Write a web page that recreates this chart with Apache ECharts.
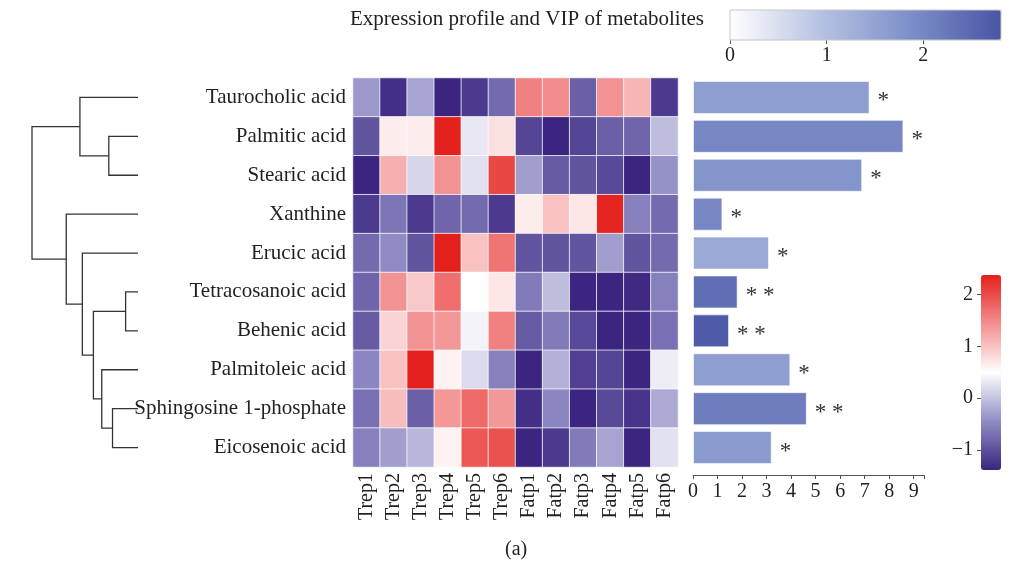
<!DOCTYPE html>
<html>
<head>
<meta charset="utf-8">
<script src="https://cdn.jsdelivr.net/npm/echarts@6/dist/echarts.min.js"></script>
<style>
  html, body { margin: 0; padding: 0; background: #fff; }
  #main { width: 1034px; height: 569px; }
</style>
</head>
<body>
<div id="main"></div>
<script>
// rows top to bottom, columns left to right
const rows = ['Taurocholic acid', 'Palmitic acid', 'Stearic acid', 'Xanthine', 'Erucic acid',
  'Tetracosanoic acid', 'Behenic acid', 'Palmitoleic acid', 'Sphingosine 1-phosphate', 'Eicosenoic acid'];
const cols = ['Trep1', 'Trep2', 'Trep3', 'Trep4', 'Trep5', 'Trep6',
  'Fatp1', 'Fatp2', 'Fatp3', 'Fatp4', 'Fatp5', 'Fatp6'];

// scaled expression (z-score), one line per metabolite
const expr = [
  [-0.35, -1.3, -0.25, -1.4, -1.2, -0.75, 1.55, 1.45, -0.85, 1.4, 1.1, -1.2],
  [-0.95, 0.65, 0.65, 2.4, 0.3, 0.75, -1.1, -1.4, -1.1, -0.85, -0.8, -0.05],
  [-1.4, 1.15, 0.15, 1.4, 0.25, 2.05, -0.3, -0.9, -0.95, -1.05, -1.4, -0.4],
  [-1.2, -0.65, -1.2, -0.8, -0.75, -1.2, 0.65, 1.0, 0.7, 2.35, -0.55, -0.75],
  [-0.75, -0.45, -0.95, 2.4, 1.0, 1.65, -0.95, -0.95, -0.95, -0.3, -0.95, -0.75],
  [-0.8, 1.4, 0.95, 1.7, 0.5, 0.7, -0.6, -0.05, -1.4, -1.4, -1.35, -0.55],
  [-0.9, 0.85, 1.4, 1.35, 0.4, 1.55, -0.9, -0.6, -1.05, -1.4, -1.4, -0.7],
  [-0.5, 1.0, 2.4, 0.6, 0.2, -0.55, -1.4, -0.15, -1.15, -1.1, -1.4, 0.35],
  [-0.7, 1.05, -0.85, 1.35, 1.75, 1.35, -1.3, -0.5, -1.4, -1.05, -1.25, -0.2],
  [-0.55, -0.3, -0.1, 0.6, 1.9, 1.95, -1.4, -1.2, -0.6, -0.25, -1.4, 0.25]
];

// VIP bars and their shading value
const vip = [7.2, 8.58, 6.9, 1.2, 3.1, 1.82, 1.47, 3.97, 4.64, 3.21];
const vipShade = [1.6, 2.0, 1.75, 2.0, 1.4, 2.4, 2.7, 1.6, 2.15, 1.65];
const stars = ['*', '*', '*', '*', '*', '* *', '* *', '*', '* *', '*'];

// dendrogram merges: [left, right, height]; ids >= 10 are earlier merges
const merges = [
  [5, 6, 1.23],
  [8, 9, 2.53],
  [1, 2, 2.9],
  [7, 11, 3.6],
  [10, 13, 4.43],
  [4, 14, 5.53],
  [0, 12, 5.77],
  [3, 15, 7.13],
  [16, 17, 10.53]
];

const FONT = 'Liberation Serif';
const INK = '#231f20';

// heatmap cells
const heatData = [];
expr.forEach(function (r, i) {
  r.forEach(function (v, j) {
    heatData.push([j, i, v]);
  });
});

// dendrogram segments
const nodes = rows.map(function (_, i) { return { h: 0, y: i }; });
const dendroLines = [];
merges.forEach(function (m) {
  const a = nodes[m[0]], b = nodes[m[1]];
  dendroLines.push({
    coords: [[a.h, a.y], [m[2], a.y], [m[2], b.y], [b.h, b.y]]
  });
  nodes.push({ h: m[2], y: (a.y + b.y) / 2 });
});

const barData = vip.map(function (v, i) {
  return [v, rows[i], vipShade[i]];
});

const txt = { fontFamily: FONT, color: INK, fontSize: 20 };

const myChart = echarts.init(document.getElementById('main'));
const option = {
  animation: false,
  backgroundColor: '#fff',
  textStyle: { fontFamily: FONT },
  title: [
    {
      text: 'Expression profile and VIP of metabolites',
      left: 345, top: 4,
      textStyle: { fontFamily: FONT, color: INK, fontSize: 21, fontWeight: 'normal' }
    },
    {
      text: '(a)',
      left: 500, top: 535,
      textStyle: { fontFamily: FONT, color: INK, fontSize: 20, fontWeight: 'normal' }
    }
  ],
  grid: [
    { left: 353, top: 78, width: 325, height: 389 },   // heatmap
    { left: 693, top: 78, width: 231, height: 389 },   // VIP bars
    { left: 32, top: 78, width: 106, height: 389 },    // dendrogram
    { left: 730, top: 10, width: 193.3, height: 30 },  // VIP colorbar ticks
    { left: 981, top: 294.7, width: 20, height: 155.3 }, // heatmap colorbar ticks
    { left: 730, top: 10, width: 271, height: 30, show: true, z: 10,
      backgroundColor: 'transparent', borderColor: '#c8c8c8', borderWidth: 1 } // colorbar frame
  ],
  xAxis: [
    {
      gridIndex: 0, type: 'category', data: cols,
      axisLine: { show: false }, axisTick: { show: false },
      axisLabel: Object.assign({ rotate: 90, margin: 6 }, txt)
    },
    {
      gridIndex: 1, type: 'value', min: 0, max: 9.42, interval: 1, offset: 8,
      axisLine: { show: true, lineStyle: { color: '#555', width: 1 } },
      axisTick: { show: true, length: 4, lineStyle: { color: '#555' } },
      splitLine: { show: false },
      axisLabel: Object.assign({
        margin: 7,
        formatter: function (v) { return Number.isInteger(v) ? String(v) : ''; }
      }, txt)
    },
    {
      gridIndex: 2, type: 'value', min: 0, max: 10.53, inverse: true, show: false
    },
    {
      gridIndex: 3, type: 'value', min: 0, max: 2, interval: 1, position: 'bottom',
      axisLine: { show: false },
      axisTick: { show: true, length: 4, lineStyle: { color: '#555' } },
      splitLine: { show: false },
      axisLabel: Object.assign({ margin: 6 }, txt)
    },
    {
      gridIndex: 4, type: 'value', min: 0, max: 1, show: false
    },
    {
      gridIndex: 5, type: 'value', min: 0, max: 1, show: false
    }
  ],
  yAxis: [
    {
      gridIndex: 0, type: 'category', data: rows, inverse: true,
      axisLine: { show: false }, axisTick: { show: false },
      axisLabel: Object.assign({ margin: 7 }, txt, { fontSize: 21 })
    },
    {
      gridIndex: 1, type: 'category', data: rows, inverse: true, show: false
    },
    {
      gridIndex: 2, type: 'value', min: -0.5, max: 9.5, inverse: true, show: false
    },
    {
      gridIndex: 3, type: 'value', min: 0, max: 1, show: false
    },
    {
      gridIndex: 4, type: 'value', min: -1, max: 2, interval: 1, position: 'left',
      axisLine: { show: false },
      axisTick: { show: true, length: 4, lineStyle: { color: '#555' } },
      splitLine: { show: false },
      axisLabel: Object.assign({
        margin: 8,
        formatter: function (v) { return String(v).replace('-', '\u2212'); }
      }, txt)
    },
    {
      gridIndex: 5, type: 'value', min: 0, max: 1, show: false
    }
  ],
  visualMap: [
    {
      type: 'continuous', seriesIndex: 0, min: -1.39, max: 2.38,
      calculable: false, orient: 'vertical', left: 981, top: 275,
      itemWidth: 20, itemHeight: 195, padding: 0,
      inRange: { color: ['#3b2580', '#8f8cc5', '#ffffff', '#f28e8e', '#e3201b'] }
    },
    {
      type: 'continuous', seriesIndex: 1, dimension: 2, min: 0, max: 2.8,
      calculable: false, orient: 'horizontal', left: 730, top: 10,
      itemWidth: 30, itemHeight: 271, padding: 0,
      inRange: { color: ['#ffffff', '#b7c2e2', '#7d8fc9', '#4a55a4'] }
    }
  ],
  series: [
    {
      type: 'heatmap', xAxisIndex: 0, yAxisIndex: 0, data: heatData,
      itemStyle: { borderColor: 'rgba(255,255,255,0.75)', borderWidth: 1 },
      emphasis: { disabled: true }
    },
    {
      type: 'bar', xAxisIndex: 1, yAxisIndex: 1, data: barData,
      encode: { x: 0, y: 1 }, barWidth: 33,
      itemStyle: { borderColor: 'rgba(255,255,255,0.6)', borderWidth: 1 },
      label: {
        show: true, position: 'right', distance: 8,
        fontFamily: FONT, fontSize: 23, color: '#333', offset: [0, 4],
        formatter: function (p) { return stars[p.dataIndex]; }
      }
    },
    {
      type: 'lines', coordinateSystem: 'cartesian2d', xAxisIndex: 2, yAxisIndex: 2,
      polyline: true, silent: true, data: dendroLines,
      lineStyle: { color: '#333', width: 1.3, opacity: 1 }
    }
  ]
};
myChart.setOption(option);
</script>
</body>
</html>
